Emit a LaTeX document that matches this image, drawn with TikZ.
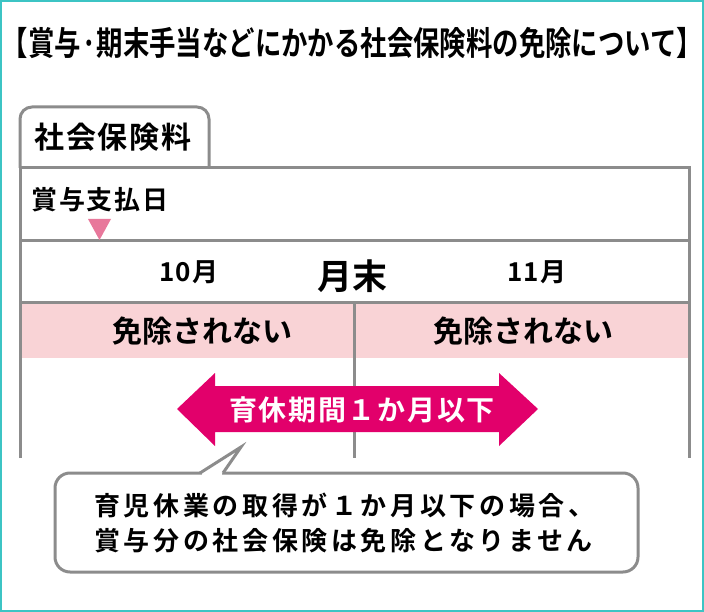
\documentclass[tikz,border=0pt]{standalone}
\usepackage{fontspec}
\setmainfont{Noto Sans CJK JP}[BoldFont={Noto Sans CJK JP Bold}]
\usetikzlibrary{positioning}

\definecolor{frameteal}{RGB}{60,196,196}
\definecolor{linegray}{RGB}{140,140,140}
\definecolor{rowpink}{RGB}{249,211,214}
\definecolor{markpink}{RGB}{232,120,155}
\definecolor{arrowred}{RGB}{226,0,107}

\newcommand{\spaced}[1]{\addfontfeature{LetterSpace=#1}}

\begin{document}
\begin{tikzpicture}[x=1pt,y=-1pt]
\tikzset{every node/.style={inner sep=0pt, font=\bfseries},
  grayline/.style={draw=linegray, line width=3pt},
  labelbig/.style={font=\bfseries\fontsize{30}{30}\selectfont},
  labelmid/.style={font=\bfseries\fontsize{26}{26}\selectfont\spaced{6}},
  notebox/.style={grayline, fill=white, rounded corners=15pt}}
\useasboundingbox (0,0) rectangle (704,612);
\draw [frameteal, line width=2pt] (1,1) rectangle (703,611);
% title
\node (title) at (352.5,43) {\scalebox{0.8}[1]{\fontsize{33}{33}\selectfont 【賞与·期末手当などにかかる社会保険料の免除について】}};
% tab and table
\draw [grayline, fill=white, rounded corners=12pt] (20,168) -- (20,107) -- (209,107) -- (209,168);
\node [labelbig, font=\bfseries\fontsize{30}{30}\selectfont\spaced{6}] (tab) at (113,137) {社会保険料};
\fill [rowpink] (20,303) rectangle (689,358);
\draw [grayline] (20,458) -- (20,168) -- (689,168) -- (689,458);
\draw [grayline] (20,241) -- (689,241);
\draw [grayline] (20,303) -- (689,303);
\draw [grayline] (354,303) -- (354,458);
% bonus day
\node [labelmid] (bonusday) at (100,200) {賞与支払日};
\fill [markpink] (88,219) -- (111,219) -- (99.5,240) -- cycle;
\node [labelmid] (oct) at (189,272) {10月};
\node [font=\bfseries\fontsize{35}{35}\selectfont] (monthend) at (352,276) {月末};
\node [labelmid] (nov) at (537,272) {11月};
\node [labelbig] (exemptl) at (202,331) {免除されない};
\node [labelbig] (exemptr) at (523,331) {免除されない};
% leave period
\fill [arrowred] (177,409) -- (215,373) -- (215,386) -- (499,386) -- (499,373)
  -- (538,409) -- (499,446) -- (499,432) -- (215,432) -- (215,446) -- cycle;
\node [text=white, font=\bfseries\fontsize{28}{28}\selectfont\spaced{6}] (leave) at (362,410) {育休期間１か月以下};
% note
\node [notebox, minimum width=583pt, minimum height=99pt] (note) at (346.5,522.5) {};
\coordinate (tipl) at (200,473);
\coordinate (tipr) at (223,473);
\fill [white] (201.5,471) rectangle (221.5,475);
\draw [grayline, fill=white, line join=miter] (tipl) -- (241,447) -- (tipr);
\node [align=left, anchor=west, font=\bfseries\fontsize{26}{35}\selectfont\spaced{14}] (notetext) at (94,522.5)
  {育児休業の取得が１か月以下の場合、\\賞与分の社会保険は免除となりません};
\end{tikzpicture}
\end{document}
